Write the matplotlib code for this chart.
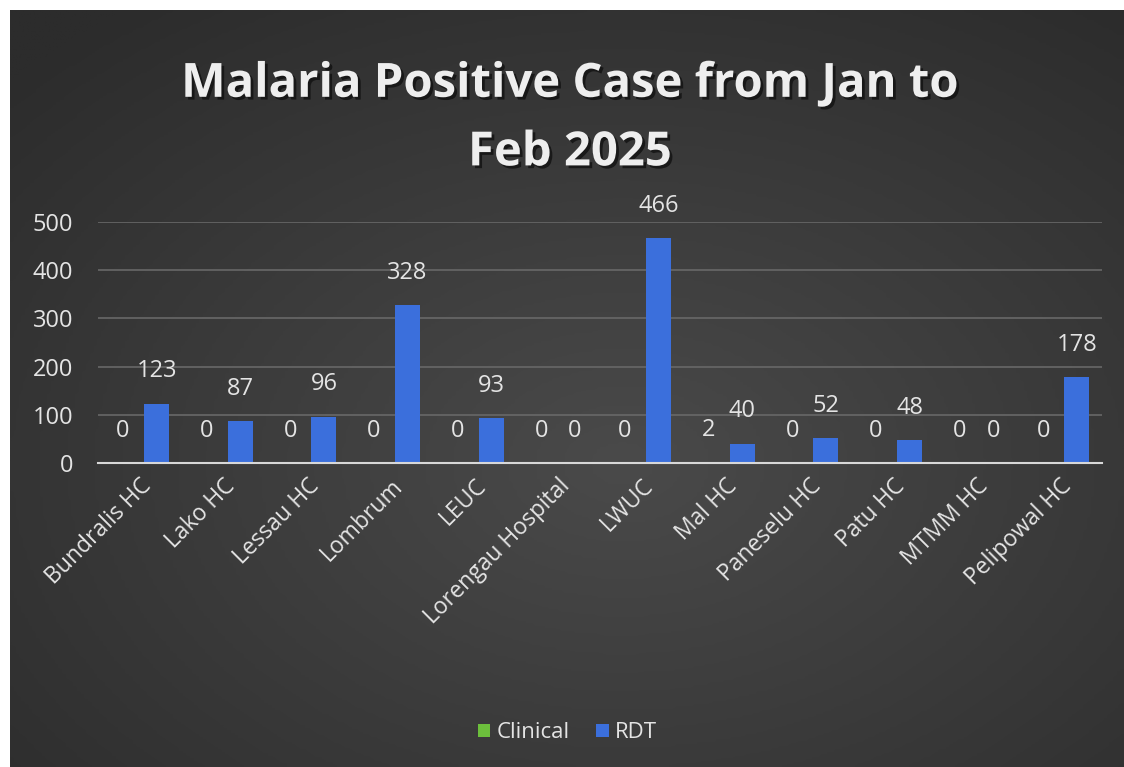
import numpy as np
import matplotlib
matplotlib.use("Agg")
import matplotlib.pyplot as plt
import matplotlib.patheffects as pe
import matplotlib.transforms as mtrans

plt.rcParams['font.family'] = ['Open Sans', 'DejaVu Sans']

facilities = ["Bundralis HC", "Lako HC", "Lessau HC", "Lombrum", "LEUC",
              "Lorengau Hospital", "LWUC", "Mal HC", "Paneselu HC", "Patu HC",
              "MTMM HC", "Pelipowal HC"]
clinical = [0, 0, 0, 0, 0, 0, 0, 2, 0, 0, 0, 0]
rdt = [123, 87, 96, 328, 93, 0, 466, 40, 52, 48, 0, 178]
yticks = [0, 100, 200, 300, 400, 500]

fig = plt.figure(figsize=(11.24, 7.67), dpi=100, facecolor="white")

# dark chart background, lighter toward the middle
bg = fig.add_axes([10 / 1124, 0, 1 - 10 / 1124, 1 - 10 / 767])
gx, gy = np.meshgrid(np.linspace(0, 1, 300), np.linspace(0, 1, 300))
r = np.sqrt(((gx - 0.55) / 0.75) ** 2 + ((gy - 0.6) / 0.75) ** 2)
bg.imshow(np.clip(1 - r, 0, 1), cmap=matplotlib.colors.LinearSegmentedColormap.from_list(
    "bg", ["#2c2c2c", "#4a4a4a"]), aspect="auto", extent=[0, 1, 0, 1], origin="upper")
bg.axis("off")

ax = fig.add_axes([98 / 1124, 1 - 463 / 767, (1102 - 98) / 1124, (463 - 222) / 767])
ax.patch.set_alpha(0)

x = np.arange(len(facilities))
w = 0.3
off = 0.2
bc = ax.bar(x - off, clinical, w, color="#6cbf3c", label="Clinical", zorder=3)
br = ax.bar(x + off, rdt, w, color="#3b6fdc", label="RDT", zorder=3)

lab_col = "#e4e4e4"
for xi, v in zip(x, clinical):
    ax.text(xi - off, v + 42, str(v), ha="center", va="bottom", color=lab_col, fontsize=17)
for xi, v in zip(x, rdt):
    ax.text(xi + off, v + 42, str(v), ha="center", va="bottom", color=lab_col, fontsize=17)

ax.set_xlim(-0.5, len(facilities) - 0.5)
ax.set_ylim(0, 500)
ax.set_yticks(yticks)
ax.set_yticklabels([str(t) for t in yticks], color=lab_col, fontsize=17)
ax.set_xticks(x)
ax.set_xticklabels(facilities, rotation=45, ha="right", rotation_mode="anchor",
                   color=lab_col, fontsize=16.5)
shift = mtrans.ScaledTranslation(-12 / 100, 0, fig.dpi_scale_trans)
for lab in ax.get_xticklabels():
    lab.set_transform(lab.get_transform() + shift)
ax.tick_params(length=0, pad=8)
ax.tick_params(axis="y", pad=18)
ax.grid(axis="y", color="#686868", linewidth=1.2, zorder=0)
for s in ["top", "right", "left"]:
    ax.spines[s].set_visible(False)
ax.spines["bottom"].set_color("#d8d8d8")
ax.spines["bottom"].set_linewidth(1.5)
ax.spines["bottom"].set_zorder(4)

fig.text(0.507, 0.77, "Malaria Positive Case from Jan to\nFeb 2025", ha="center", va="bottom",
         color="#eeeeee", fontsize=34, fontweight="bold", linespacing=1.6,
         path_effects=[pe.withSimplePatchShadow(offset=(2, -2), shadow_rgbFace="#111111", alpha=0.8)])

leg = fig.legend(handles=[bc, br], loc="center", bbox_to_anchor=(0.505, 1 - 733 / 767), ncol=2,
                 frameon=False, fontsize=16, handlelength=0.55, handleheight=0.55,
                 handletextpad=0.3, columnspacing=1.2)
for t in leg.get_texts():
    t.set_color(lab_col)

fig.savefig("out.png", dpi=100, facecolor=fig.get_facecolor())
